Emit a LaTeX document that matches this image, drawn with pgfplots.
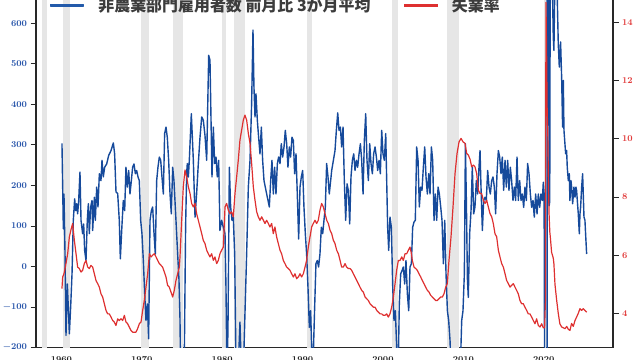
\documentclass[border=0pt]{standalone}
\usepackage{pgfplots}
\pgfplotsset{compat=1.18}
\usepackage{pgfplotstable}
\usepackage{fontspec}
\newfontfamily\cjk{Noto Sans CJK JP}
\definecolor{nfpblue}{RGB}{22,74,155}
\definecolor{legblue}{RGB}{35,90,170}
\definecolor{urred}{RGB}{222,48,48}
\definecolor{tickblue}{RGB}{40,85,170}
\definecolor{tickred}{RGB}{225,60,60}
\definecolor{recgray}{RGB}{230,230,230}
\definecolor{spine}{RGB}{40,40,40}
\definecolor{legtext}{RGB}{60,60,60}

\pgfplotstableread{
year v
1960.07 304
1960.24 93
1960.32 179
1960.45 31
1960.57 -170
1960.74 -43
1960.99 -166
1961.15 -100
1961.32 -18
1961.48 114
1961.65 167
1961.77 138
1961.90 155
1962.02 130
1962.15 163
1962.31 233
1962.44 114
1962.64 81
1962.77 105
1962.89 40
1963.06 15
1963.22 114
1963.35 155
1963.47 81
1963.64 147
1963.81 163
1963.89 89
1964.10 171
1964.22 114
1964.39 196
1964.55 147
1964.72 229
1964.92 212
1965.05 262
1965.21 221
1965.38 245
1965.63 253
1965.88 274
1966.17 286
1966.46 305
1966.62 278
1966.79 184
1967.00 180
1967.20 114
1967.33 19
1967.54 105
1967.70 163
1967.87 138
1968.03 245
1968.20 196
1968.37 237
1968.53 179
1968.70 212
1968.86 245
1969.03 253
1969.20 229
1969.36 237
1969.53 221
1969.69 212
1969.86 114
1970.02 81
1970.19 15
1970.36 -67
1970.52 -133
1970.69 -92
1970.85 -178
1971.02 114
1971.19 138
1971.35 147
1971.52 81
1971.68 31
1971.85 212
1972.01 245
1972.18 270
1972.35 262
1972.51 221
1972.68 179
1972.84 328
1973.01 344
1973.17 319
1973.34 262
1973.51 179
1973.67 130
1973.84 245
1974.00 212
1974.25 114
1974.50 15
1974.62 -30
1974.75 -130
1974.85 -300
1975.00 -450
1975.15 -480
1975.30 -200
1975.45 100
1975.58 230
1975.66 254
1975.79 221
1975.91 262
1976.16 377
1976.41 262
1976.62 122
1976.82 180
1977.03 254
1977.24 319
1977.45 369
1977.65 361
1977.86 323
1978.07 262
1978.32 521
1978.48 509
1978.61 361
1978.73 221
1978.90 344
1979.06 254
1979.23 270
1979.39 221
1979.56 262
1979.72 89
1979.93 114
1980.14 97
1980.35 81
1980.47 -51
1980.60 -280
1980.72 -150
1980.89 245
1981.05 147
1981.22 114
1981.38 122
1981.55 31
1981.72 -250
1981.88 -300
1982.05 -220
1982.21 -137
1982.38 -250
1982.63 -260
1982.83 -117
1983.04 31
1983.25 196
1983.46 262
1983.66 402
1983.83 583
1983.95 443
1984.08 369
1984.20 426
1984.37 361
1984.53 319
1984.70 278
1984.87 344
1985.03 262
1985.20 212
1985.36 196
1985.53 179
1985.70 163
1985.86 147
1986.03 212
1986.19 262
1986.36 179
1986.52 245
1986.69 179
1986.86 254
1987.02 270
1987.19 254
1987.35 303
1987.52 270
1987.69 295
1987.85 336
1988.02 303
1988.18 245
1988.35 295
1988.51 270
1988.68 319
1988.85 311
1989.01 229
1989.18 278
1989.34 179
1989.51 68
1989.68 196
1989.84 221
1990.01 237
1990.17 147
1990.34 81
1990.50 31
1990.67 -51
1990.84 -150
1991.00 -109
1991.17 -230
1991.33 -220
1991.50 -100
1991.66 7
1991.83 15
1991.99 -1
1992.16 31
1992.33 97
1992.50 81
1992.66 114
1992.83 147
1992.99 254
1993.16 221
1993.32 179
1993.62 237
1993.83 262
1994.03 286
1994.20 336
1994.37 379
1994.53 336
1994.70 344
1994.86 295
1995.03 344
1995.19 212
1995.36 114
1995.53 204
1995.69 188
1995.86 105
1996.02 221
1996.19 262
1996.36 278
1996.52 237
1996.69 262
1996.85 245
1997.02 278
1997.19 303
1997.35 262
1997.52 179
1997.68 311
1997.85 377
1998.01 262
1998.18 212
1998.35 303
1998.51 254
1998.68 229
1998.84 278
1999.01 295
1999.18 270
1999.34 237
1999.51 262
1999.67 229
1999.84 336
2000.00 278
2000.17 262
2000.34 328
2000.46 212
2000.58 97
2000.71 40
2000.87 122
2001.04 97
2001.21 -51
2001.37 -133
2001.54 -109
2001.70 -199
2001.87 -280
2002.03 -92
2002.20 -18
2002.37 -10
2002.53 -1
2002.70 -43
2002.86 15
2003.03 -67
2003.20 -109
2003.36 -1
2003.53 7
2003.69 97
2003.86 110
2004.02 114
2004.19 295
2004.36 262
2004.52 147
2004.69 196
2004.85 188
2005.02 245
2005.19 295
2005.35 221
2005.52 179
2005.69 229
2005.85 179
2006.02 295
2006.18 262
2006.35 114
2006.51 179
2006.68 114
2006.85 196
2007.01 179
2007.18 147
2007.34 114
2007.51 7
2007.68 114
2007.84 -18
2008.01 -109
2008.17 -133
2008.34 -183
2008.50 -280
2008.67 -450
2008.83 -600
2009.00 -750
2009.17 -700
2009.33 -500
2009.50 -350
2009.62 -250
2009.79 -133
2009.95 -109
2010.12 -18
2010.25 303
2010.38 150
2010.50 -30
2010.61 -76
2010.78 81
2010.95 138
2011.11 245
2011.28 130
2011.44 147
2011.61 212
2011.78 179
2011.94 245
2012.07 286
2012.19 196
2012.36 89
2012.52 163
2012.69 171
2012.85 163
2013.02 237
2013.19 196
2013.35 179
2013.52 212
2013.68 221
2013.85 196
2014.01 130
2014.18 229
2014.35 286
2014.51 270
2014.68 229
2014.84 270
2015.01 188
2015.18 262
2015.34 196
2015.51 262
2015.67 188
2015.84 245
2016.00 212
2016.17 163
2016.34 196
2016.50 163
2016.67 270
2016.83 163
2017.00 212
2017.17 163
2017.33 179
2017.50 146
2017.66 196
2017.83 163
2017.99 254
2018.16 229
2018.33 179
2018.49 146
2018.66 163
2018.82 122
2018.99 179
2019.16 130
2019.32 179
2019.49 146
2019.65 179
2019.82 163
2019.94 208
2020.04 180
2020.12 -450
2020.20 -7000
2020.29 -5000
2020.37 -4000
2020.45 3000
2020.54 2600
2020.60 800
2020.66 150
2020.74 160
2020.82 900
2020.92 1200
2021.02 750
2021.18 566
2021.26 533
2021.39 720
2021.51 680
2021.68 660
2021.80 550
2021.93 492
2022.09 554
2022.22 467
2022.34 344
2022.43 459
2022.51 336
2022.63 303
2022.72 278
2022.84 286
2022.92 245
2023.05 212
2023.17 229
2023.25 163
2023.38 212
2023.46 196
2023.59 155
2023.75 196
2023.88 171
2024.00 196
2024.08 188
2024.29 130
2024.42 81
2024.50 130
2024.58 146
2024.71 196
2024.83 229
2024.91 179
2025.00 122
2025.12 114
2025.20 81
2025.33 31
}\nfp

\pgfplotstableread{
year r
1960.07 4.85
1960.16 5.25
1960.32 5.36
1960.49 5.59
1960.78 6.05
1960.99 6.63
1961.23 6.92
1961.40 7.09
1961.61 6.51
1961.82 6.05
1962.02 5.59
1962.23 5.54
1962.44 5.42
1962.64 5.48
1962.85 5.71
1963.06 5.82
1963.27 5.59
1963.47 5.54
1963.68 5.65
1963.89 5.59
1964.10 5.36
1964.30 5.13
1964.51 5.02
1964.72 4.90
1964.92 4.67
1965.13 4.56
1965.34 4.33
1965.55 4.10
1965.75 3.98
1965.96 3.98
1966.17 3.87
1966.38 3.75
1966.58 3.70
1966.79 3.58
1967.00 3.81
1967.20 3.75
1967.41 3.81
1967.62 3.75
1967.83 3.93
1968.03 3.70
1968.24 3.64
1968.44 3.53
1968.65 3.41
1968.86 3.35
1969.06 3.35
1969.27 3.35
1969.48 3.47
1969.69 3.64
1969.90 3.70
1970.11 4.10
1970.31 4.44
1970.52 4.90
1970.73 5.36
1970.94 6.05
1971.15 5.94
1971.35 6.00
1971.56 6.05
1971.77 5.94
1971.97 5.82
1972.18 5.71
1972.39 5.65
1972.59 5.59
1972.80 5.42
1973.01 5.25
1973.21 4.96
1973.42 4.90
1973.63 4.73
1973.84 4.56
1974.04 4.79
1974.25 5.13
1974.46 5.36
1974.67 5.59
1974.75 5.94
1974.96 7.20
1975.16 8.35
1975.37 8.93
1975.58 8.70
1975.79 8.35
1976.00 8.12
1976.20 7.78
1976.41 7.66
1976.62 7.78
1976.82 7.43
1977.03 7.20
1977.24 6.97
1977.45 6.74
1977.65 6.51
1977.86 6.40
1978.07 6.17
1978.27 6.05
1978.48 5.94
1978.69 6.05
1978.90 5.82
1979.10 5.94
1979.31 5.71
1979.52 5.82
1979.72 6.05
1979.93 6.17
1980.14 6.28
1980.35 7.66
1980.55 7.78
1980.76 7.55
1980.97 7.43
1981.17 7.49
1981.38 7.32
1981.59 8.12
1981.80 8.70
1982.00 9.27
1982.21 9.96
1982.42 10.31
1982.63 10.65
1982.83 10.82
1983.04 10.65
1983.25 10.19
1983.46 9.85
1983.66 9.16
1983.87 8.35
1984.08 7.89
1984.29 7.49
1984.49 7.32
1984.70 7.20
1984.91 7.32
1985.12 7.20
1985.32 7.09
1985.53 7.20
1985.74 7.09
1985.94 6.97
1986.15 7.09
1986.36 6.74
1986.56 6.97
1986.77 6.63
1986.98 6.40
1987.19 6.17
1987.39 6.05
1987.60 5.82
1987.81 5.71
1988.02 5.59
1988.22 5.54
1988.43 5.48
1988.64 5.36
1988.85 5.25
1989.05 5.36
1989.26 5.19
1989.47 5.25
1989.68 5.36
1989.88 5.25
1990.09 5.36
1990.30 5.59
1990.50 5.82
1990.71 6.28
1990.92 6.63
1991.13 6.97
1991.33 7.09
1991.54 7.20
1991.75 7.09
1991.95 7.20
1992.16 7.55
1992.37 7.78
1992.58 7.66
1992.79 7.43
1993.00 7.20
1993.20 7.09
1993.41 6.86
1993.62 6.74
1993.83 6.51
1994.03 6.40
1994.24 6.17
1994.45 6.05
1994.66 5.82
1994.86 5.59
1995.07 5.59
1995.28 5.71
1995.48 5.59
1995.69 5.54
1995.90 5.54
1996.10 5.48
1996.31 5.36
1996.52 5.25
1996.73 5.13
1996.93 5.02
1997.14 4.90
1997.35 4.79
1997.56 4.73
1997.77 4.56
1997.97 4.50
1998.18 4.44
1998.39 4.33
1998.59 4.27
1998.80 4.21
1999.01 4.21
1999.22 4.10
1999.42 4.04
1999.63 3.98
1999.84 3.98
2000.04 3.93
2000.25 3.93
2000.46 3.98
2000.66 3.87
2000.87 3.98
2001.08 4.21
2001.29 4.56
2001.50 5.02
2001.70 5.48
2001.91 5.82
2002.12 5.82
2002.33 5.94
2002.53 5.82
2002.74 6.05
2002.95 6.05
2003.16 6.17
2003.36 6.28
2003.50 6.10
2003.65 5.82
2003.86 5.59
2004.07 5.54
2004.27 5.48
2004.48 5.36
2004.69 5.25
2004.89 5.13
2005.10 5.02
2005.31 4.90
2005.52 4.79
2005.72 4.73
2005.93 4.62
2006.14 4.56
2006.34 4.50
2006.55 4.44
2006.76 4.44
2006.97 4.50
2007.17 4.56
2007.38 4.56
2007.59 4.67
2007.80 4.90
2008.00 5.02
2008.21 5.82
2008.46 6.63
2008.71 7.66
2008.96 8.81
2009.21 9.50
2009.46 9.90
2009.71 10.02
2009.95 9.90
2010.20 9.85
2010.41 9.50
2010.61 9.45
2010.83 9.30
2011.03 9.04
2011.24 9.10
2011.44 9.04
2011.65 8.81
2011.86 8.24
2012.07 8.12
2012.27 8.12
2012.48 7.89
2012.69 7.78
2012.90 7.89
2013.10 7.66
2013.31 7.43
2013.52 7.32
2013.72 7.09
2013.93 6.74
2014.14 6.63
2014.35 6.17
2014.55 5.94
2014.76 5.71
2014.97 5.59
2015.18 5.36
2015.38 5.13
2015.59 5.02
2015.80 4.90
2016.00 4.96
2016.21 5.02
2016.42 4.90
2016.62 4.79
2016.83 4.67
2017.04 4.44
2017.24 4.33
2017.45 4.33
2017.66 4.21
2017.87 4.10
2018.07 3.98
2018.28 3.98
2018.49 3.87
2018.70 3.75
2018.90 3.64
2019.11 3.81
2019.32 3.58
2019.53 3.53
2019.74 3.64
2019.94 3.50
2020.10 3.50
2020.20 4.40
2020.27 14.70
2020.35 13.00
2020.42 11.00
2020.50 10.20
2020.58 8.40
2020.66 7.40
2020.75 6.80
2020.85 6.50
2020.97 6.10
2021.18 5.90
2021.26 5.70
2021.39 5.00
2021.60 4.45
2021.80 4.00
2022.00 3.64
2022.22 3.53
2022.43 3.50
2022.64 3.47
2022.85 3.55
2023.05 3.45
2023.25 3.41
2023.46 3.65
2023.67 3.55
2023.88 3.75
2024.08 3.87
2024.29 4.00
2024.50 4.16
2024.71 4.10
2024.91 4.16
2025.12 4.10
2025.33 4.04
}\unemp

\begin{document}
\begin{tikzpicture}
\useasboundingbox (0,0) rectangle (640bp,360bp);
\clip (0,0) rectangle (640bp,360bp);
\pgfplotsset{
  base/.style={
    at={(36bp,12.3bp)}, anchor=south west,
    scale only axis, width=577bp, height=364.95bp,
    xmin=1956.84, xmax=2028.61,
    axis line style={spine, line width=1.5bp},
    tick align=outside,
    major tick length=5.5bp,
    /pgf/number format/1000 sep={},
  }
}
\begin{axis}[base,
  ymin=-200, ymax=700,
  axis y line*=left, axis x line*=bottom,
  ytick={-200,-100,...,600},
  yticklabel style={font=\fontsize{9.5}{11}\selectfont\boldmath, text=tickblue},
  ytick style={spine, line width=1bp},
  xtick={1960,1970,...,2020},
  xticklabel style={font=\fontsize{9.5}{11}\selectfont\boldmath, text=black!85},
  xtick style={draw=none},
  legend columns=2,
  legend style={at={(axis description cs:0.0243,0.938)}, anchor=west,
    draw=none, fill=none, inner sep=0pt, outer sep=0pt,
    font=\cjk\bfseries\fontsize{16}{17}\selectfont,
    nodes={inner sep=0pt},
    /tikz/every odd column/.append style={column sep=14bp},
    /tikz/every even column/.append style={column sep=34bp}},
]
\addplot[fill=recgray, draw=none, forget plot] coordinates {(1957.583,-300) (1958.25,-300) (1958.25,900) (1957.583,900)};
\addplot[fill=recgray, draw=none, forget plot] coordinates {(1960.25,-300) (1961.083,-300) (1961.083,900) (1960.25,900)};
\addplot[fill=recgray, draw=none, forget plot] coordinates {(1969.917,-300) (1970.833,-300) (1970.833,900) (1969.917,900)};
\addplot[fill=recgray, draw=none, forget plot] coordinates {(1973.833,-300) (1975.167,-300) (1975.167,900) (1973.833,900)};
\addplot[fill=recgray, draw=none, forget plot] coordinates {(1980.0,-300) (1980.5,-300) (1980.5,900) (1980.0,900)};
\addplot[fill=recgray, draw=none, forget plot] coordinates {(1981.5,-300) (1982.833,-300) (1982.833,900) (1981.5,900)};
\addplot[fill=recgray, draw=none, forget plot] coordinates {(1990.5,-300) (1991.167,-300) (1991.167,900) (1990.5,900)};
\addplot[fill=recgray, draw=none, forget plot] coordinates {(2001.167,-300) (2001.833,-300) (2001.833,900) (2001.167,900)};
\addplot[fill=recgray, draw=none, forget plot] coordinates {(2007.917,-300) (2009.417,-300) (2009.417,900) (2007.917,900)};
\addplot[fill=recgray, draw=none, forget plot] coordinates {(2020.083,-300) (2020.25,-300) (2020.25,900) (2020.083,900)};
\addplot[nfpblue, line width=1.4bp, line join=round,
  legend image code/.code={\color{legblue}\fill[legblue] (0bp,-0.7bp) rectangle (33bp,0.7bp);}]
  table[x=year, y=v] {\nfp};
\addlegendentry{\textcolor{legtext}{非農業部門雇用者数\ 前月比\ 3か月平均}}
\addlegendimage{legend image code/.code={\color{urred}\fill[urred] (0bp,-0.7bp) rectangle (33bp,0.7bp);}}
\addlegendentry{\textcolor{legtext}{失業率}}
\end{axis}
\begin{axis}[base,
  ymin=2.816, ymax=15.375,
  axis y line*=right, axis x line=none,
  ytick={4,6,...,14},
  yticklabel style={font=\fontsize{9.5}{11}\selectfont\boldmath, text=tickred},
  ytick style={spine, line width=1bp},
]
\addplot[urred, line width=1.2bp, line join=round] table[x=year, y=r] {\unemp};
\end{axis}
\end{tikzpicture}
\end{document}
